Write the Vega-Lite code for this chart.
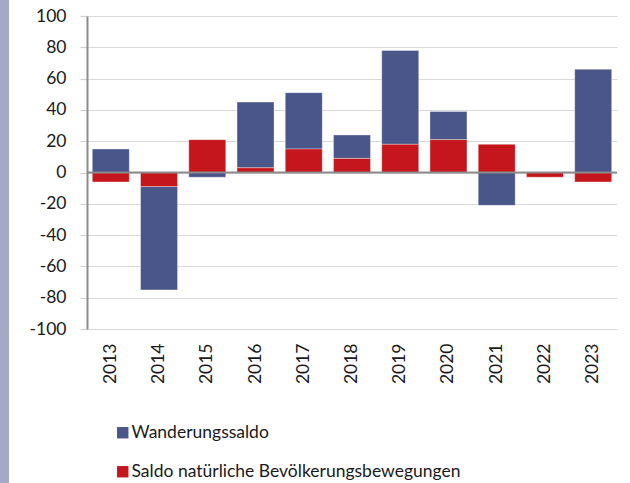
{
  "$schema": "https://vega.github.io/schema/vega-lite/v6.json",
  "padding": 0,
  "background": "white",
  "spacing": 20,
  "config": {
    "font": "Lato",
    "view": {"stroke": null},
    "axis": {"labelFont": "Lato", "labelColor": "#1a1a1a", "labelFontSize": 17.5}
  },
  "datasets": {
    "balance": [
      {"year": "2013", "series": "Wanderungssaldo", "value": 15},
      {"year": "2013", "series": "Saldo natürliche Bevölkerungsbewegungen", "value": -6},
      {"year": "2014", "series": "Wanderungssaldo", "value": -66},
      {"year": "2014", "series": "Saldo natürliche Bevölkerungsbewegungen", "value": -9},
      {"year": "2015", "series": "Wanderungssaldo", "value": -3},
      {"year": "2015", "series": "Saldo natürliche Bevölkerungsbewegungen", "value": 21},
      {"year": "2016", "series": "Wanderungssaldo", "value": 42},
      {"year": "2016", "series": "Saldo natürliche Bevölkerungsbewegungen", "value": 3},
      {"year": "2017", "series": "Wanderungssaldo", "value": 36},
      {"year": "2017", "series": "Saldo natürliche Bevölkerungsbewegungen", "value": 15},
      {"year": "2018", "series": "Wanderungssaldo", "value": 15},
      {"year": "2018", "series": "Saldo natürliche Bevölkerungsbewegungen", "value": 9},
      {"year": "2019", "series": "Wanderungssaldo", "value": 60},
      {"year": "2019", "series": "Saldo natürliche Bevölkerungsbewegungen", "value": 18},
      {"year": "2020", "series": "Wanderungssaldo", "value": 18},
      {"year": "2020", "series": "Saldo natürliche Bevölkerungsbewegungen", "value": 21},
      {"year": "2021", "series": "Wanderungssaldo", "value": -21},
      {"year": "2021", "series": "Saldo natürliche Bevölkerungsbewegungen", "value": 18},
      {"year": "2022", "series": "Wanderungssaldo", "value": 0},
      {"year": "2022", "series": "Saldo natürliche Bevölkerungsbewegungen", "value": -3},
      {"year": "2023", "series": "Wanderungssaldo", "value": 66},
      {"year": "2023", "series": "Saldo natürliche Bevölkerungsbewegungen", "value": -6}
    ],
    "empty": []
  },
  "hconcat": [
    {
      "width": 9,
      "height": 483,
      "view": {"fill": "#a5a9c8", "stroke": null},
      "data": {"name": "empty"},
      "mark": "point",
      "encoding": {}
    },
    {
      "spacing": 6,
      "vconcat": [
        {
          "width": 1,
          "height": 1,
          "data": {"name": "empty"},
          "mark": "point",
          "encoding": {}
        },
        {
          "width": 530,
          "height": 313,
          "data": {"name": "balance"},
          "layer": [
            {
              "mark": {"type": "bar", "stroke": "#ffffff", "strokeWidth": 0.6, "strokeOpacity": 0.6},
              "encoding": {
                "x": {
                  "field": "year", "type": "ordinal",
                  "scale": {"paddingInner": 0.233, "paddingOuter": 0.11},
                  "axis": {"title": null, "labelAngle": -90, "ticks": false, "domain": false, "labelPadding": 14, "grid": false}
                },
                "y": {
                  "field": "value", "type": "quantitative",
                  "scale": {"domain": [-100, 100], "nice": false},
                  "axis": {
                    "title": null, "values": [-100, -80, -60, -40, -20, 0, 20, 40, 60, 80, 100],
                    "tickCount": 11,
                    "labelExpr": "'' + datum.value", "labelOverlap": false,
                    "grid": true, "gridColor": "#d9d9d9", "gridWidth": 1.2,
                    "domain": true, "domainColor": "#8c8c8c", "domainWidth": 2,
                    "ticks": true, "tickColor": "#d0d0d0", "tickSize": 7, "tickWidth": 1.2,
                    "labelPadding": 14
                  }
                },
                "color": {
                  "field": "series", "type": "nominal",
                  "scale": {
                    "domain": ["Wanderungssaldo", "Saldo natürliche Bevölkerungsbewegungen"],
                    "range": ["#4a5589", "#c4161c"]
                  },
                  "legend": {
                    "title": null, "orient": "none", "legendX": 114, "legendY": 424,
                    "direction": "vertical", "symbolType": "square", "symbolSize": 130,
                    "symbolStrokeWidth": 0, "labelFontSize": 17.5, "labelFont": "Lato",
                    "labelColor": "#1a1a1a", "labelOffset": 0, "rowPadding": 20, "labelLimit": 0
                  }
                },
                "order": {"field": "series", "sort": "ascending"}
              }
            },
            {
              "mark": {"type": "rule", "color": "#8c8c8c", "strokeWidth": 2},
              "data": {"values": [{"zero": 0}]},
              "encoding": {"y": {"field": "zero", "type": "quantitative"}}
            }
          ]
        }
      ]
    }
  ]
}
